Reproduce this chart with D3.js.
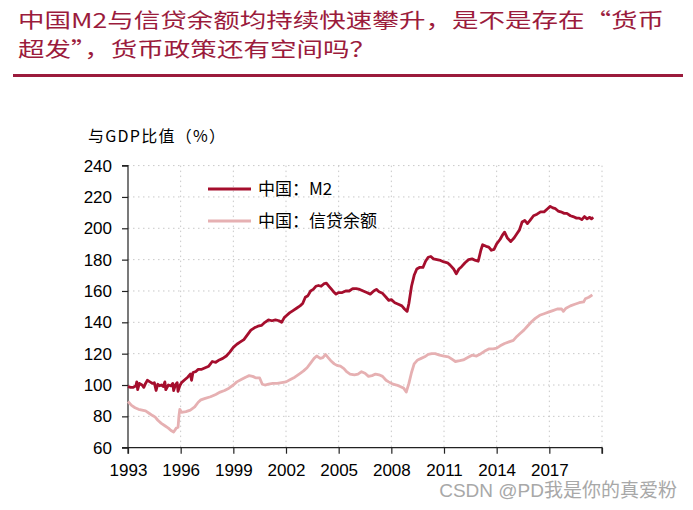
<!DOCTYPE html>
<html>
<head>
<meta charset="utf-8">
<script src="https://cdn.jsdelivr.net/npm/d3@7/dist/d3.min.js"></script>
<style>
html,body{margin:0;padding:0;background:#fff;}
svg{display:block;}
</style>
</head>
<body>
<svg id="chart" width="693" height="510"></svg>
<script>
// ---- data ----
const titleLines = ["中国M2与信贷余额均持续快速攀升，是不是存在“货币", "超发”，货币政策还有空间吗？"];
const yLabel = "与GDP比值（%）";
const seriesNames = ["中国：M2", "中国：信贷余额"];
const xTicks = [1993, 1996, 1999, 2002, 2005, 2008, 2011, 2014, 2017, 2020];
const xTickLabels = ["1993", "1996", "1999", "2002", "2005", "2008", "2011", "2014", "2017", ""];
const yTicks = [60, 80, 100, 120, 140, 160, 180, 200, 220, 240];
const watermark = "CSDN @PD我是你的真爱粉";

const m2Years = [1993.0,1993.15,1993.3,1993.45,1993.5,1993.55,1993.65,1993.8,1993.9,1994.0,1994.1,1994.25,1994.4,1994.5,1994.6,1994.7,1994.8,1994.9,1995.0,1995.1,1995.15,1995.3,1995.45,1995.55,1995.6,1995.7,1995.8,1995.85,1995.95,1996.05,1996.2,1996.4,1996.55,1996.62,1996.7,1996.85,1997.0,1997.2,1997.4,1997.6,1997.8,1998.0,1998.2,1998.4,1998.6,1998.8,1999.0,1999.2,1999.4,1999.6,1999.8,2000.0,2000.2,2000.4,2000.6,2000.8,2001.0,2001.2,2001.4,2001.6,2001.75,2001.9,2002.05,2002.2,2002.4,2002.6,2002.8,2002.95,2003.1,2003.25,2003.4,2003.55,2003.7,2003.85,2004.0,2004.15,2004.3,2004.45,2004.6,2004.75,2004.85,2005.0,2005.2,2005.4,2005.6,2005.8,2006.0,2006.2,2006.4,2006.6,2006.8,2007.0,2007.15,2007.3,2007.5,2007.7,2007.85,2008.0,2008.2,2008.4,2008.6,2008.75,2008.9,2009.0,2009.15,2009.3,2009.45,2009.6,2009.8,2009.95,2010.1,2010.25,2010.4,2010.6,2010.8,2011.0,2011.2,2011.35,2011.55,2011.7,2011.85,2012.0,2012.2,2012.4,2012.6,2012.8,2012.95,2013.1,2013.2,2013.4,2013.55,2013.7,2013.85,2014.0,2014.2,2014.35,2014.45,2014.6,2014.8,2015.0,2015.15,2015.3,2015.45,2015.6,2015.75,2015.9,2016.1,2016.3,2016.5,2016.7,2016.9,2017.05,2017.2,2017.35,2017.5,2017.65,2017.85,2018.0,2018.2,2018.35,2018.55,2018.7,2018.85,2019.0,2019.15,2019.3,2019.4,2019.5];
const m2Values = [99,98.5,98.5,99.5,102,97,101,100,98.5,101,103,102,101,101.5,96.5,100.5,99.5,100,99,102,97,100,99.5,101,96.5,100,101.5,96,99.5,101.5,103,105,107,103,108,108.5,110,110,111,112,115,114.5,116,117,118.5,121,124,126,127.5,129,132,135,136.5,137.5,138,140,141.5,141,141.5,141,140,143,144.5,146,147.5,149,150.5,152,156,157,160,161,163,163.5,163,164.5,165,163,161,159,158,159,159,160,160,161.5,161.5,161,160,159,158,160,161,159.5,158.5,156,154,154.5,152.5,151.5,150.5,148.5,147,152,163,170,174,175,175,179,181.5,182,180.5,180,179.5,178.5,178,176.5,174,171,174,175.5,178,180,180.5,179.5,179,186,189.5,188.5,188,186,186.5,190,193,196,197.5,194,191.5,194,196.5,199,204,205,203,205,208,209,210.5,210.5,212.5,214,213,212.5,211,210.5,209.5,209.5,208,207.5,206.5,206.5,205.5,207.5,206,207,206,207];

const creditYears = [1993.0,1993.2,1993.4,1993.6,1993.8,1994.0,1994.2,1994.4,1994.55,1994.7,1994.9,1995.1,1995.3,1995.45,1995.6,1995.75,1995.85,1995.9,1995.95,1996.05,1996.3,1996.55,1996.8,1997.0,1997.15,1997.4,1997.7,1998.0,1998.25,1998.5,1998.75,1999.0,1999.2,1999.45,1999.7,1999.9,2000.1,2000.3,2000.5,2000.65,2000.8,2001.0,2001.25,2001.5,2001.75,2002.0,2002.25,2002.5,2002.75,2003.0,2003.2,2003.4,2003.6,2003.75,2003.95,2004.1,2004.25,2004.4,2004.55,2004.75,2004.9,2005.1,2005.3,2005.45,2005.65,2005.9,2006.1,2006.3,2006.5,2006.7,2006.9,2007.1,2007.3,2007.5,2007.7,2007.85,2008.1,2008.3,2008.5,2008.7,2008.85,2009.0,2009.15,2009.3,2009.5,2009.7,2009.9,2010.1,2010.3,2010.5,2010.75,2011.0,2011.25,2011.45,2011.65,2011.9,2012.1,2012.35,2012.6,2012.85,2013.1,2013.3,2013.55,2013.8,2014.0,2014.2,2014.45,2014.7,2014.95,2015.15,2015.35,2015.55,2015.75,2016.0,2016.2,2016.45,2016.7,2016.95,2017.2,2017.45,2017.7,2017.8,2017.95,2018.2,2018.45,2018.7,2018.95,2019.05,2019.25,2019.45];
const creditValues = [89.5,87,85.5,84.5,84,83.5,82,80.5,79.5,77.5,75.5,74,72.5,71,70,72.5,73,80,84.5,82.5,83,84,86,89,90.5,91.5,92.5,94,95.5,96.5,98,100,102,103.5,105,106,105.5,104.5,104.5,100.5,100,100.5,101,101,101.5,102,103.5,105,107,109,111,114,117,118.5,117,117.5,119.5,117.5,115.5,113.5,112.5,112,110.5,108.5,107,106.5,107,108.5,107.5,105.5,106,107,106.5,105.5,103,102,100.5,100,99,98,95.5,101,108,113.5,116,117,118,119.5,120,120,119,118.5,118,116.5,115,115.5,116,117.5,119,118.5,120,121.5,123,123,123.5,125,126.5,127.5,128.5,131,133,135,137.5,140.5,142.5,144.5,145.5,146.5,147.5,148.5,148.5,147,149,150.5,151.5,152.5,153,155,156,157.5];

const m2Data = m2Years.map((y, i) => ({x: y, v: m2Values[i]}));
const creditData = creditYears.map((y, i) => ({x: y, v: creditValues[i]}));

// ---- layout ----
const svg = d3.select("#chart");
const W = 693, H = 510;
const plot = {left: 128, right: 602, top: 165.6, bottom: 447.7};
const titleColor = "#9B1B3C";
const m2Color = "#A50E2D";
const creditColor = "#E6B0B2";
const tickFont = "'Liberation Sans', Arial, sans-serif";
const cjkFont = "'Noto Sans CJK SC', 'Noto Sans', sans-serif";

svg.append("rect").attr("width", W).attr("height", H).attr("fill", "#fff");

// title
svg.append("text").attr("x", 18).attr("y", 28)
  .attr("font-family", cjkFont).attr("font-size", 20.5).attr("fill", titleColor)
  .attr("textLength", 646).attr("lengthAdjust", "spacingAndGlyphs")
  .text(titleLines[0]);
svg.append("text").attr("x", 18).attr("y", 57)
  .attr("font-family", cjkFont).attr("font-size", 20.5).attr("fill", titleColor)
  .attr("textLength", 358).attr("lengthAdjust", "spacingAndGlyphs")
  .text(titleLines[1]);
svg.append("rect").attr("x", 13).attr("y", 74).attr("width", 670).attr("height", 3).attr("fill", titleColor);

// scales
const x = d3.scaleLinear().domain([1993, 2020]).range([plot.left, plot.right]);
const y = d3.scaleLinear().domain([60, 240]).range([plot.bottom, plot.top]);

// grid
const grid = svg.append("g");
grid.selectAll("line.h").data(yTicks.slice(1)).join("line")
  .attr("x1", plot.left).attr("x2", plot.right)
  .attr("y1", d => y(d)).attr("y2", d => y(d))
  .attr("stroke", "#c8c8c8").attr("stroke-width", 1).attr("stroke-dasharray", "1.5,3.5");
grid.selectAll("line.v").data(xTicks.slice(1)).join("line")
  .attr("x1", d => x(d)).attr("x2", d => x(d))
  .attr("y1", plot.top).attr("y2", plot.bottom)
  .attr("stroke", "#c8c8c8").attr("stroke-width", 1).attr("stroke-dasharray", "1.5,3.5");

// axes
const yAxis = svg.append("g").attr("transform", `translate(${plot.left},0)`)
  .call(d3.axisLeft(y).tickValues(yTicks).tickSize(6).tickPadding(10));
const xAxis = svg.append("g").attr("transform", `translate(0,${plot.bottom})`)
  .call(d3.axisBottom(x).tickValues(xTicks).tickFormat((d, i) => xTickLabels[i]).tickSize(6).tickPadding(10));
[yAxis, xAxis].forEach(a => {
  a.select(".domain").attr("stroke", "#222").attr("stroke-width", 1.2);
  a.selectAll(".tick line").attr("stroke", "#222").attr("stroke-width", 1.2);
  a.selectAll("text").attr("font-family", tickFont).attr("font-size", 17).attr("fill", "#000");
});
yAxis.select(".domain").attr("d", `M-6,${plot.bottom}H0V${plot.top}H-6`);
xAxis.select(".domain").attr("d", `M${plot.left},6V0H${plot.right}V6`);

// y label
svg.append("text").attr("x", 88).attr("y", 142)
  .attr("font-family", cjkFont).attr("font-size", 16).attr("fill", "#000")
  .attr("textLength", 137).attr("lengthAdjust", "spacing")
  .text(yLabel);

// lines
const line = d3.line().x(d => x(d.x)).y(d => y(d.v));
svg.append("path").datum(creditData).attr("d", line)
  .attr("fill", "none").attr("stroke", creditColor).attr("stroke-width", 2.8).attr("stroke-linejoin", "round");
svg.append("path").datum(m2Data).attr("d", line)
  .attr("fill", "none").attr("stroke", m2Color).attr("stroke-width", 2.8).attr("stroke-linejoin", "round");

// legend
const legend = svg.append("g");
[m2Color, creditColor].forEach((c, i) => {
  const ly = 189 + i * 32;
  legend.append("line").attr("x1", 208).attr("x2", 251).attr("y1", ly).attr("y2", ly)
    .attr("stroke", c).attr("stroke-width", 3);
  legend.append("text").attr("x", 258).attr("y", ly + 6)
    .attr("font-family", cjkFont).attr("font-size", 17).attr("fill", "#000")
    .text(seriesNames[i]);
});

// watermark
svg.append("text").attr("x", 677).attr("y", 497).attr("text-anchor", "end")
  .attr("font-family", "'Liberation Sans', 'Noto Sans CJK SC', sans-serif").attr("font-size", 19).attr("fill", "#a8a8a8")
  .text(watermark);
</script>
</body>
</html>
